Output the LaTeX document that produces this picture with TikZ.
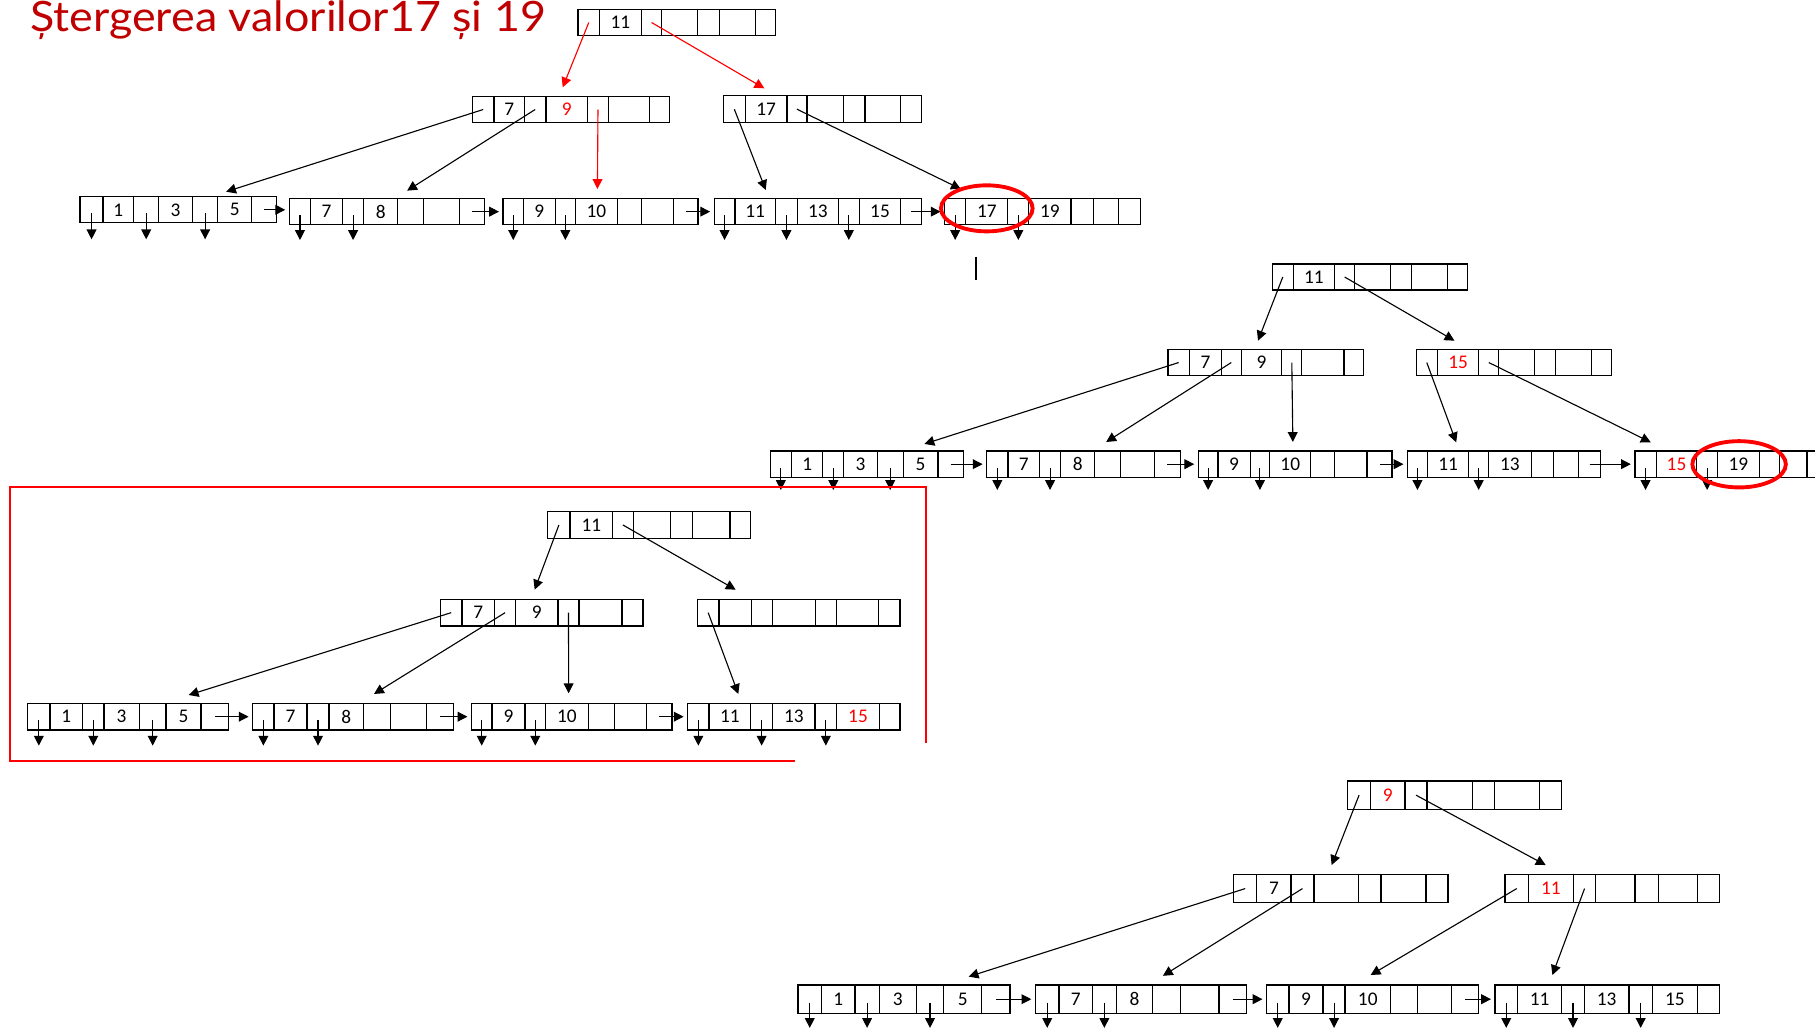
\documentclass[tikz,border=0pt]{standalone}
\usepackage{fontspec}
\setmainfont{Carlito}
\newfontfamily\titlefont{Lato}
\usetikzlibrary{arrows.meta,fit,calc,shapes.geometric}
\definecolor{titred}{RGB}{192,0,0}
\newcommand\kfont{\fontsize{9.5pt}{11pt}\selectfont}
\tikzset{
  cellst/.style={draw, line width=0.6pt, inner sep=0pt},
  keyt/.style={font=\kfont, inner sep=0pt},
  arr/.style={-{Triangle[length=0.17cm,width=0.17cm]}, line width=0.55pt},
  rarr/.style={arr, draw=red, fill=red},
  hl/.style={draw=red, line width=1.9pt, ellipse, inner sep=0pt},
}
% #1 name, #2 ytop, #3 ybottom, #4 eight divider x's, #5-#7 keys
\newcommand\bnode[7]{%
  \foreach \xx [count=\i, remember=\xx as \px (initially 0)] in {#4} {%
    \ifnum\i>1
      \pgfmathtruncatemacro\j{\i-1}%
      \node[cellst, fit={(\px,#2) (\xx,#3)}] (#1-\j) {};
    \fi
  }%
  \node[inner sep=0pt, fit={(#1-1.north west) (#1-7.south east)}] (#1) {};
  \node[keyt] (#1-k1) at (#1-2.center) {#5};
  \node[keyt] (#1-k2) at (#1-4.center) {#6};
  \node[keyt] (#1-k3) at (#1-6.center) {#7};
}
\newcommand\downarr[3]{\foreach \cc in {#2}{\draw[arr] ($(#1-\cc.center)+(0,3)$) -- ++(0,#3);}}
\newcommand\nextarr[2]{\draw[arr, shorten >=1.5pt] (#1-7.center) -- (#1-7.center -| #2.west);}

\begin{document}
\begin{tikzpicture}[x=0.02cm,y=-0.02cm]
\fill[white] (0,0) rectangle (1568,889);
\useasboundingbox (0,0) rectangle (1568,889);

% title
\node[anchor=base west, inner sep=0pt, text=titred, font=\titlefont\fontsize{20.6pt}{23pt}\selectfont] (title) at (26,27.4) {\scalebox{1.07}[1]{Ștergerea valorilor17 și 19}};

% ---------------- diagram 1 ----------------
\bnode{R1}{8.1}{30.8}{499.4,517.9,554.1,571.7,602.6,621.5,652.4,670}{11}{}{}
\bnode{A1}{83.2}{106}{408.2,426.7,453.1,471.6,507.8,525.4,561.1,578.3}{7}{\textcolor{red}{9}}{}
\bnode{B1}{82.7}{106}{625,643.8,679.9,697.1,728.5,747.3,778.1,796}{17}{}{}
\bnode{L1a}{170}{192.5}{69.2,89,115.5,137.1,166.2,188.2,217.3,238.9}{1}{3}{5}
\bnode{L1b}{171.5}{194.2}{249.9,268.4,295.8,314.3,343.4,365.9,396.7,418.7}{7}{8}{}
\bnode{L1c}{171.5}{194.2}{434.6,452.2,479.6,497.2,533.3,554.5,581.8,603}{9}{10}{}
\bnode{L1d}{171.5}{194.2}{617,634.9,670,688.8,724.2,742.4,778.1,796}{11}{13}{15}
\bnode{L1e}{171.5}{194.2}{816.1,834.3,870.7,888.8,925.2,945,966.5,985.4}{17}{19}{}

\draw[rarr] (R1-1.center) -- ($(A1.north west)+(78.8,-6.9)$);
\draw[rarr] (R1-3.center) -- ($(B1.north west)+(36.2,-5.5)$);
\draw[arr] (A1-1.center) -- ($(L1a.north west)+(127,-3.5)$);
\draw[arr] (A1-3.center) -- ($(L1b.north west)+(102.7,-5.9)$);
\draw[rarr] (A1-5.center) -- ($(L1c.north west)+(82.4,-7.4)$);
\draw[arr] (B1-1.center) -- ($(L1d.north west)+(45.4,-6.5)$);
\draw[arr] (B1-3.center) -- ($(L1e.north west)+(14.9,-7.3)$);
\nextarr{L1a}{L1b}
\nextarr{L1b}{L1c}
\nextarr{L1c}{L1d}
\nextarr{L1d}{L1e}
\downarr{L1a}{1,3,5}{22.5}
\downarr{L1b}{1,3}{21.5}
\downarr{L1c}{1,3}{21.5}
\downarr{L1d}{1,3,5}{21.5}
\downarr{L1e}{1,3}{21.5}
\node[hl, minimum width=1.584cm, minimum height=0.796cm] (E1) at (852.5,180) {};
\draw[line width=1pt] (843.5,221.8) -- (843.5,241.9);

% ---------------- diagram 2 ----------------
\bnode{R2}{228.1}{250.5}{1099.2,1117.2,1153.1,1170.2,1201.3,1219.4,1250.5,1268}{11}{}{}
\bnode{A2}{301.8}{324.6}{1009,1027.5,1055.2,1072.2,1107.3,1124.7,1161,1177.9}{7}{9}{}
\bnode{B2}{301.8}{324.6}{1223.4,1241.8,1277.6,1294.7,1325.9,1343.9,1375,1392.5}{\textcolor{red}{15}}{}{}
\bnode{L2a}{389.6}{412.4}{665.3,683.8,710.8,729,757.9,780.2,810.3,832.3}{1}{3}{5}
\bnode{L2b}{389.6}{412.4}{852.4,870.8,897.9,916.4,945.7,968,997.4,1019.8}{7}{8}{}
\bnode{L2c}{389.6}{412.4}{1035.2,1052.2,1080,1096.9,1132.4,1153.2,1181,1202.6}{9}{10}{}
\bnode{L2d}{389.6}{412.4}{1216,1233.1,1268.9,1286,1322.8,1342,1363.8,1382.6}{11}{13}{}
\bnode{L2e}{389.6}{412.4}{1412.4,1430.8,1465.9,1483.7,1519.8,1537.6,1561,1580}{\textcolor{red}{15}}{19}{}

\draw[arr] (R2-1.center) -- ($(A2.north west)+(78.7,-6.6)$);
\draw[arr] (R2-3.center) -- ($(B2.north west)+(34,-6.6)$);
\draw[arr] (A2-1.center) -- ($(L2a.north west)+(134.2,-5.2)$);
\draw[arr] (A2-3.center) -- ($(L2b.north west)+(104.1,-6.9)$);
\draw[arr] (A2-5.center) -- ($(L2c.north west)+(82.6,-6.9)$);
\draw[arr] (B2-1.center) -- ($(L2d.north west)+(42.9,-6.6)$);
\draw[arr] (B2-3.center) -- ($(L2e.north west)+(14.6,-6.6)$);
\nextarr{L2a}{L2b}
\nextarr{L2b}{L2c}
\nextarr{L2c}{L2d}
\nextarr{L2d}{L2e}
\downarr{L2a}{1,3,5}{19.3}
\downarr{L2b}{1,3}{19.3}
\downarr{L2c}{1,3}{19.3}
\downarr{L2d}{1,3}{19.3}
\downarr{L2e}{1,3}{19.3}
\node[hl, minimum width=1.616cm, minimum height=0.8cm] (E2) at (1502.4,401.1) {};

% ---------------- diagram 3 ----------------
\bnode{R3}{442}{465}{473.2,492.5,529.2,547,579.4,598.1,630.7,648.5}{11}{}{}
\bnode{A3}{517.8}{540.8}{380.3,399.2,427.3,445.4,482.1,500.2,537.3,555.4}{7}{9}{}
\bnode{B3}{517.8}{540.8}{602.4,621.2,649.4,667.5,704.7,722.8,759.1,777.5}{}{}{}
\bnode{L3a}{607.6}{630.7}{23.9,43.2,71.4,89.8,120.3,143.5,173.6,197.5}{1}{3}{5}
\bnode{L3b}{607.6}{630.7}{218.3,236.8,265.3,284.2,314.3,337.5,368.3,391.5}{7}{8}{}
\bnode{L3c}{607.6}{630.7}{407.3,425,453.6,471.3,508.3,530.7,558.5,580.5}{9}{10}{}
\bnode{L3d}{607.6}{630.7}{594.1,612.5,648.5,667.5,704.1,722.8,759.7,777.5}{11}{13}{\textcolor{red}{15}}

\draw[arr] (R3-1.center) -- ($(A3.north west)+(82.5,-7.5)$);
\draw[arr] (R3-3.center) -- ($(B3.north west)+(34,-7.5)$);
\draw[arr] (A3-1.center) -- ($(L3a.north west)+(140,-6.3)$);
\draw[arr] (A3-3.center) -- ($(L3b.north west)+(105.7,-7.2)$);
\draw[arr] (A3-5.center) -- ($(L3c.north west)+(84.8,-7.8)$);
\draw[arr] (B3-1.center) -- ($(L3d.north west)+(44.6,-7.2)$);
\nextarr{L3a}{L3b}
\nextarr{L3b}{L3c}
\nextarr{L3c}{L3d}
\downarr{L3a}{1,3,5}{22}
\downarr{L3b}{1,3}{22}
\downarr{L3c}{1,3}{22}
\downarr{L3d}{1,3,5}{22}
\draw[red, line width=1pt] (686.8,657.5) -- (8.5,657.5) -- (8.5,420.4) -- (800,420.4) -- (800,642.2);

% ---------------- diagram 4 ----------------
\bnode{R4}{674.7}{699.2}{1164,1184.2,1213.8,1232.8,1272,1291,1329.9,1349.2}{\textcolor{red}{9}}{}{}
\bnode{A4}{755.4}{779.9}{1065.7,1085.8,1115.3,1135.1,1173.7,1193,1232,1250.9}{7}{}{}
\bnode{B4}{755.4}{779.9}{1300.2,1320.4,1359.2,1378.6,1412.5,1432.7,1466.3,1485.4}{\textcolor{red}{11}}{}{}
\bnode{L4a}{851}{875.4}{689.3,709.8,738.7,759.5,791.5,815.4,848.2,872.5}{1}{3}{5}
\bnode{L4b}{851}{875.4}{894.5,914.9,943.8,964.3,995.9,1019.8,1053,1076.9}{7}{8}{}
\bnode{L4c}{851}{875.4}{1094.2,1113.5,1143,1162,1201.2,1224.4,1254.2,1277.2}{9}{10}{}
\bnode{L4d}{851}{875.4}{1291.6,1310.9,1349.2,1368.7,1407.3,1427.5,1466.3,1485.4}{11}{13}{15}

\draw[arr] (R4-1.center) -- ($(A4.north west)+(85.6,-7.2)$);
\draw[arr] (R4-3.center) -- ($(B4.north west)+(36,-7.2)$);
\draw[arr] (A4-1.center) -- ($(L4a.north west)+(148.4,-6.4)$);
\draw[arr] (A4-3.center) -- ($(L4b.north west)+(111,-7.1)$);
\draw[arr] (B4-1.center) -- ($(L4c.north west)+(90.8,-7.8)$);
\draw[arr] (B4-3.center) -- ($(L4d.north west)+(50.4,-7.8)$);
\nextarr{L4a}{L4b}
\nextarr{L4b}{L4c}
\nextarr{L4c}{L4d}
\downarr{L4a}{1,3,5}{21.8}
\downarr{L4b}{1,3}{21.8}
\downarr{L4c}{1,3}{21.8}
\downarr{L4d}{1,3,5}{21.8}
\end{tikzpicture}
\end{document}
